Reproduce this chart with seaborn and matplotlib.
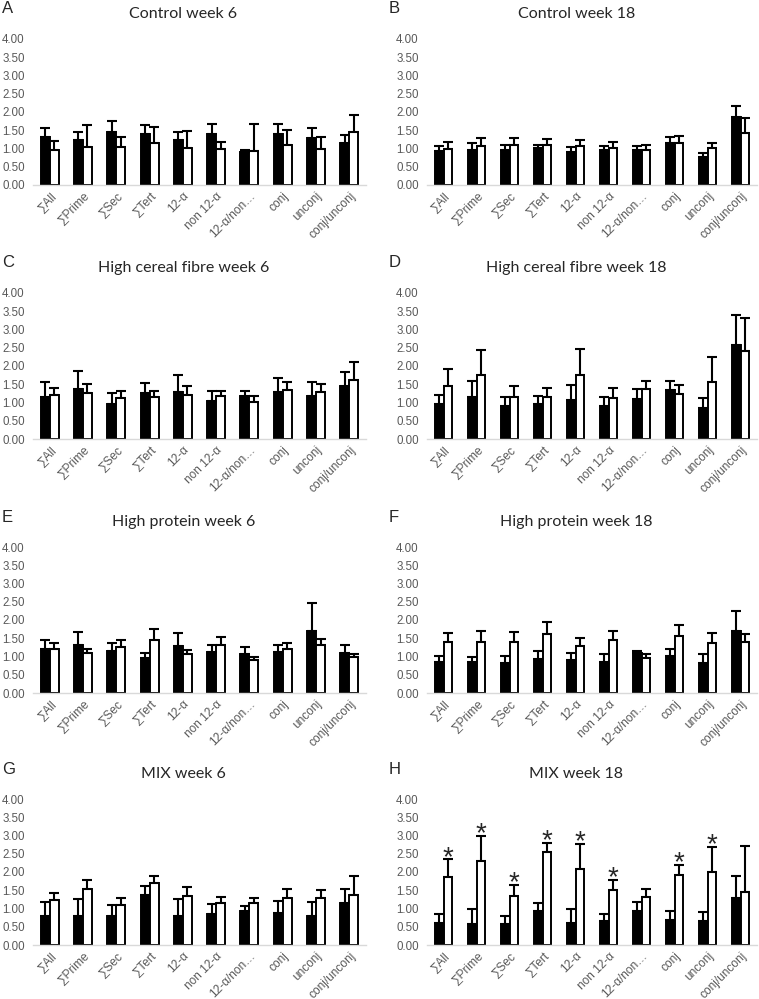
import pandas as pd
import matplotlib.pyplot as plt
import seaborn as sns

categories = ['∑All', '∑Prime', '∑Sec', '∑Tert', '12-α', 'non 12-α',
              '12-α/non…', 'conj', 'unconj', 'conj/unconj']
groups = ['group1', 'group2']

titles = ['Control week 6', 'Control week 18',
          'High cereal fibre week 6', 'High cereal fibre week 18',
          'High protein week 6', 'High protein week 18',
          'MIX week 6', 'MIX week 18']
letters = ['A', 'B', 'C', 'D', 'E', 'F', 'G', 'H']

# means and top of error bar, black (group1) and white (group2) bars
a_black = [1.31, 1.24, 1.46, 1.39, 1.22, 1.41, 0.90, 1.39, 1.29, 1.16]
a_black_top = [1.55, 1.45, 1.76, 1.64, 1.45, 1.66, 0.96, 1.66, 1.55, 1.36]
a_white = [0.95, 1.05, 1.03, 1.14, 1.00, 0.99, 0.94, 1.09, 0.99, 1.46]
a_white_top = [1.20, 1.64, 1.32, 1.59, 1.49, 1.17, 1.66, 1.50, 1.31, 1.93]

b_black = [0.94, 0.96, 0.96, 1.01, 0.90, 0.97, 0.96, 1.16, 0.77, 1.85]
b_black_top = [1.08, 1.14, 1.09, 1.09, 1.04, 1.08, 1.08, 1.32, 0.88, 2.16]
b_white = [0.99, 1.08, 1.10, 1.10, 1.06, 1.02, 0.97, 1.15, 1.00, 1.42]
b_white_top = [1.17, 1.30, 1.30, 1.27, 1.23, 1.17, 1.09, 1.34, 1.14, 1.83]

c_black = [1.16, 1.38, 0.95, 1.27, 1.29, 1.05, 1.17, 1.30, 1.17, 1.45]
c_black_top = [1.56, 1.85, 1.26, 1.53, 1.76, 1.32, 1.32, 1.68, 1.57, 1.84]
c_white = [1.21, 1.27, 1.12, 1.16, 1.21, 1.19, 1.01, 1.33, 1.29, 1.61]
c_white_top = [1.40, 1.52, 1.31, 1.31, 1.46, 1.32, 1.18, 1.56, 1.51, 2.10]

d_black = [0.96, 1.14, 0.90, 0.97, 1.06, 0.91, 1.10, 1.34, 0.86, 2.57]
d_black_top = [1.20, 1.59, 1.15, 1.19, 1.47, 1.15, 1.37, 1.59, 1.12, 3.39]
d_white = [1.45, 1.75, 1.14, 1.14, 1.74, 1.12, 1.37, 1.22, 1.56, 2.42]
d_white_top = [1.93, 2.45, 1.46, 1.39, 2.46, 1.41, 1.59, 1.49, 2.26, 3.32]

e_black = [1.21, 1.31, 1.16, 0.96, 1.28, 1.11, 1.07, 1.13, 1.69, 1.09]
e_black_top = [1.44, 1.67, 1.37, 1.10, 1.64, 1.31, 1.25, 1.31, 2.46, 1.31]
e_white = [1.20, 1.10, 1.26, 1.44, 1.07, 1.31, 0.90, 1.20, 1.31, 0.99]
e_white_top = [1.37, 1.21, 1.44, 1.74, 1.18, 1.53, 0.98, 1.37, 1.48, 1.08]

f_black = [0.85, 0.85, 0.82, 0.94, 0.91, 0.86, 1.10, 1.02, 0.83, 1.70]
f_black_top = [1.02, 0.98, 1.02, 1.15, 1.10, 1.06, 1.14, 1.20, 1.06, 2.26]
f_white = [1.40, 1.41, 1.41, 1.62, 1.29, 1.45, 0.96, 1.57, 1.38, 1.39]
f_white_top = [1.64, 1.69, 1.67, 1.94, 1.51, 1.71, 1.06, 1.86, 1.64, 1.62]

g_black = [0.80, 0.80, 0.80, 1.38, 0.80, 0.86, 0.93, 0.87, 0.80, 1.14]
g_black_top = [1.17, 1.25, 1.09, 1.63, 1.25, 1.12, 1.08, 1.21, 1.17, 1.54]
g_white = [1.24, 1.54, 1.10, 1.71, 1.34, 1.15, 1.14, 1.30, 1.28, 1.38]
g_white_top = [1.43, 1.79, 1.28, 1.89, 1.60, 1.31, 1.28, 1.53, 1.51, 1.88]

h_black = [0.60, 0.58, 0.57, 0.94, 0.59, 0.65, 0.92, 0.69, 0.65, 1.29]
h_black_top = [0.85, 1.00, 0.79, 1.16, 0.98, 0.86, 1.18, 0.92, 0.91, 1.89]
h_white = [1.87, 2.29, 1.34, 2.56, 2.07, 1.50, 1.31, 1.92, 2.00, 1.45]
h_white_top = [2.35, 2.99, 1.64, 2.80, 2.77, 1.78, 1.53, 2.19, 2.69, 2.71]
h_signif = [True, True, True, True, True, True, False, True, True, False]

panels = [
    (a_black, a_black_top, a_white, a_white_top),
    (b_black, b_black_top, b_white, b_white_top),
    (c_black, c_black_top, c_white, c_white_top),
    (d_black, d_black_top, d_white, d_white_top),
    (e_black, e_black_top, e_white, e_white_top),
    (f_black, f_black_top, f_white, f_white_top),
    (g_black, g_black_top, g_white, g_white_top),
    (h_black, h_black_top, h_white, h_white_top),
]

sns.set_style('white')
plt.rcParams['font.family'] = ['Liberation Sans', 'DejaVu Sans']

W, H = 759, 999
fig = plt.figure(figsize=(W / 100, H / 100), dpi=100)

col_x = [(33, 333), (427, 330)]          # pixel left, width
row_zero = [185, 439, 693, 945]          # pixel y of the 0.00 line
ax_h = 146
tick_grey = '#595959'

for i, (blk, blk_top, wht, wht_top) in enumerate(panels):
    r, c = divmod(i, 2)
    x0, w = col_x[c]
    ax = fig.add_axes([x0 / W, 1 - row_zero[r] / H, w / W, ax_h / H])

    df = pd.DataFrame({
        'cat': categories * 2,
        'group': [groups[0]] * 10 + [groups[1]] * 10,
        'value': blk + wht,
    })
    sns.barplot(data=df, x='cat', y='value', hue='group', order=categories,
                hue_order=groups, palette=['black', 'white'], edgecolor='black',
                linewidth=1.4, width=0.54, errorbar=None, legend=False, ax=ax)

    tops = [blk_top, wht_top]
    bar_sets = list(ax.containers)
    for k, cont in enumerate(bar_sets):
        xs = [p.get_x() + p.get_width() / 2 for p in cont.patches]
        hs = [p.get_height() for p in cont.patches]
        up = [t - m for t, m in zip(tops[k], hs)]
        ax.errorbar(xs, hs, yerr=[[0] * len(up), up], fmt='none',
                    ecolor='black', elinewidth=1.5, capsize=3.3, capthick=1.5)
        if i == 7 and k == 1:
            for x, t, s in zip(xs, tops[k], h_signif):
                if s:
                    ax.annotate('*', (x, t), xytext=(0, -4), textcoords='offset points',
                                ha='center', va='baseline', fontsize=20)

    ax.set_xlim(-0.5, 9.5)
    ax.set_ylim(0, 4)
    ax.set_yticks([0, 0.5, 1, 1.5, 2, 2.5, 3, 3.5, 4])
    ax.set_yticklabels([f'{v:.2f}' for v in ax.get_yticks()])
    ax.set_xlabel('')
    ax.set_ylabel('')
    for s in ['top', 'right', 'left']:
        ax.spines[s].set_visible(False)
    ax.spines['bottom'].set_color('#d9d9d9')
    ax.spines['bottom'].set_linewidth(1)
    ax.tick_params(axis='y', length=0, pad=6, labelsize=8.3, labelcolor=tick_grey)
    ax.tick_params(axis='x', length=0, pad=3.5, labelsize=8.6, labelcolor=tick_grey)
    plt.setp(ax.get_xticklabels(), rotation=45, ha='right', va='top',
             rotation_mode='anchor')

    ax.text(0.452, 1 + 25 / ax_h, titles[i], transform=ax.transAxes,
            ha='center', va='center', fontsize=11.5, family=['Lato', 'DejaVu Sans'])
    lx = -31 / w if c == 0 else -38 / w
    ax.text(lx, 1 + 30 / ax_h, letters[i], transform=ax.transAxes,
            ha='left', va='center', fontsize=12)

fig.savefig('out.png', dpi=100)
